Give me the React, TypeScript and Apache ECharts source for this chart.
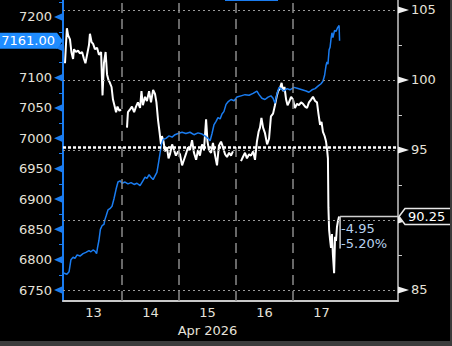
import React, { useEffect, useRef } from "react";
import * as echarts from "echarts";

// x values are hours since Apr 13 00:00
const dayLabels = ["13", "14", "15", "16", "17"];
const dayCenters = [12, 36, 60, 84, 108];
const dayBreaks = [24, 48, 72, 96];
const monthLabel = "Apr 2026";

const leftTicks = [6750, 6800, 6850, 6900, 6950, 7000, 7050, 7100, 7150, 7200];
const leftMinor = [6775, 6825, 6875, 6925, 6975, 7025, 7075, 7125, 7175, 7225];
const rightTicks = [85, 90, 95, 100, 105];
const rightMinor = [87.5, 92.5, 97.5, 102.5];

const lastSpx = 7161.0;
const lastOil = 90.25;
const prevClose = 95.2;
const netChange = "-4.95";
const pctChange = "-5.20%";

// S&P futures (left axis, blue)
const spx: [number, number][] = [
  [-0.6, 6778], [0.8, 6776], [1.7, 6780], [2.5, 6800], [3.4, 6804], [4.2, 6802], [5.1, 6808],
  [6.3, 6806], [7.6, 6810], [8.8, 6812], [10.1, 6815], [10.9, 6813], [11.8, 6816], [12.6, 6814],
  [13.3, 6810], [13.7, 6820], [14.3, 6832], [14.9, 6850], [15.6, 6856], [16.4, 6858], [16.8, 6866],
  [17.3, 6872], [18.1, 6882], [18.9, 6884], [19.8, 6888], [20.6, 6900], [21.5, 6916], [22.3, 6928],
  [23.2, 6930], [24.0, 6926], [25.3, 6928], [26.5, 6925], [27.8, 6927], [29.1, 6924], [30.3, 6926],
  [31.6, 6922], [32.8, 6930], [33.7, 6936], [34.5, 6934], [35.4, 6940], [36.2, 6936], [37.1, 6932],
  [37.9, 6938], [38.7, 6944], [39.4, 6960], [40.0, 6975], [40.6, 6990], [41.3, 6998], [42.5, 7000],
  [43.8, 7004], [45.1, 7002], [46.3, 7006], [47.6, 7008], [49.3, 7010], [50.9, 7008], [52.6, 7010],
  [54.3, 7006], [56.0, 7009], [57.7, 7007], [58.9, 7004], [60.2, 7000], [61.1, 6996], [61.9, 7008],
  [62.7, 7022], [63.6, 7028], [64.4, 7034], [65.3, 7032], [66.1, 7040], [66.9, 7044], [67.8, 7056],
  [68.6, 7060], [69.9, 7064], [71.2, 7062], [72.4, 7068], [74.1, 7070], [75.8, 7072], [77.5, 7071],
  [79.2, 7074], [80.8, 7078], [81.7, 7072], [82.9, 7066], [84.2, 7064], [85.5, 7068], [86.7, 7070],
  [87.6, 7066], [88.4, 7058], [89.3, 7074], [90.1, 7084], [90.9, 7082], [92.2, 7078], [93.5, 7082],
  [94.7, 7080], [96.4, 7084], [98.1, 7082], [99.8, 7080], [101.5, 7078], [102.7, 7076], [104.0, 7080],
  [105.3, 7082], [106.5, 7086], [107.8, 7090], [108.6, 7094], [109.3, 7104], [109.9, 7120],
  [110.3, 7126], [110.7, 7122], [111.2, 7146], [111.6, 7150], [112.0, 7164], [112.4, 7174],
  [112.8, 7166], [113.5, 7178], [114.1, 7176], [114.7, 7182], [115.4, 7186], [115.6, 7161],
];

// Crude oil (right axis, white); null = session break
const oil: [number, number | null][] = [
  [0.0, 101.2], [0.4, 102.5], [0.8, 103.7], [1.3, 103.2], [2.1, 102.9], [2.7, 102.0], [3.4, 101.5],
  [3.8, 102.2], [4.6, 102.0], [5.5, 102.1], [6.3, 101.9], [7.2, 102.0], [8.0, 101.5], [8.6, 101.2],
  [9.3, 101.8], [10.1, 102.5], [10.5, 103.3], [11.2, 102.7], [11.8, 102.6], [12.6, 102.2],
  [13.5, 102.3], [14.3, 101.8], [15.2, 102.0], [15.8, 98.9], [16.4, 101.2], [17.1, 102.0],
  [17.7, 100.4], [18.3, 100.0], [18.9, 99.8], [19.6, 99.5], [20.2, 98.6], [20.8, 98.2], [21.5, 97.7],
  [22.1, 98.1], [22.9, 97.8], [23.6, 97.9], [24.8, null],
  [26.1, 96.6], [26.5, 97.7], [27.4, 97.9], [28.2, 98.1], [29.1, 97.7], [29.9, 98.1], [30.7, 98.4],
  [31.6, 98.0], [32.2, 99.2], [32.8, 98.2], [33.7, 98.8], [34.5, 98.5], [35.4, 99.2], [36.2, 98.4],
  [37.1, 99.3], [37.9, 99.0], [38.5, 98.4], [39.2, 97.1], [39.8, 96.3], [40.4, 95.4], [40.8, 96.0],
  [41.5, 95.6], [42.1, 94.9], [42.9, 95.2], [43.6, 94.4], [44.2, 94.7], [45.1, 95.4], [45.9, 95.0],
  [46.7, 94.6], [47.6, 94.9], [48.4, 94.7], [49.3, 93.9], [50.1, 94.3], [50.9, 94.7], [51.8, 95.2],
  [52.6, 95.0], [53.5, 95.7], [54.3, 94.8], [55.2, 94.3], [56.0, 95.0], [56.8, 94.6], [57.7, 95.4],
  [58.5, 95.0], [59.4, 97.2], [60.0, 95.6], [60.6, 95.0], [61.5, 94.8], [62.3, 95.5], [63.2, 94.6],
  [64.0, 93.9], [64.8, 95.3], [65.7, 95.6], [66.5, 95.2], [67.4, 94.7], [68.2, 94.5], [69.1, 94.8],
  [69.9, 94.6], [70.7, 94.9], [72.5, null],
  [74.1, 94.2], [74.9, 94.5], [75.8, 94.8], [76.6, 94.4], [77.5, 94.7], [78.3, 94.6], [79.2, 94.9],
  [80.0, 94.3], [80.8, 95.6], [81.5, 96.3], [82.1, 96.6], [82.7, 97.3], [83.4, 96.6], [84.2, 96.2],
  [85.1, 95.4], [85.9, 95.8], [86.7, 97.4], [87.6, 97.6], [88.4, 98.2], [89.1, 98.8], [89.7, 99.2],
  [90.5, 99.4], [91.2, 99.8], [91.8, 99.2], [92.4, 99.5], [93.1, 98.6], [93.7, 98.2], [94.3, 98.4],
  [95.2, 98.8], [96.0, 98.6], [96.8, 98.0], [97.7, 98.3], [98.5, 98.2], [99.4, 98.4], [100.2, 98.3],
  [101.1, 98.1], [101.9, 98.0], [102.7, 98.4], [103.6, 98.6], [104.4, 98.8], [105.3, 98.5],
  [106.1, 98.4], [106.7, 97.6], [107.4, 96.8], [108.0, 97.0], [108.6, 96.3], [109.3, 96.0],
  [109.9, 95.6], [110.3, 95.1], [110.7, 94.4], [110.9, 90.9], [111.2, 89.3], [111.6, 88.6],
  [112.0, 88.0], [112.4, 89.0], [112.8, 87.5], [113.3, 86.2], [113.7, 88.8], [114.1, 88.5],
  [114.5, 89.5], [114.9, 89.9], [115.4, 90.25],
];

const FONT = "DejaVu Sans";
const LABEL = "#e6e2da";
const BLUE = "#1a7cf0";
const AXIS_GRAY = "#c8c8c8";

export default function App() {
  const ref = useRef<HTMLDivElement>(null);

  useEffect(() => {
    document.body.style.margin = "0";
    document.body.style.background = "#000";
    if (!ref.current) return;
    const chart = echarts.init(ref.current, null, { renderer: "svg" });

    const gridLineStyle = { color: "#9a9a9a", width: 1, type: [2, 3] as any };
    const option: any = {
      animation: false,
      backgroundColor: "#000",
      grid: { left: 63, right: 54, top: 0, bottom: 45, outerBoundsMode: "none", containLabel: false },
      xAxis: {
        type: "value",
        min: -0.84,
        max: 140.2,
        axisLine: { show: true, lineStyle: { color: AXIS_GRAY, width: 2 } },
        axisTick: { show: false },
        splitLine: { show: false },
        axisLabel: {
          customValues: dayCenters,
          color: LABEL,
          fontFamily: FONT,
          fontSize: 13,
          lineHeight: 18,
          margin: 2,
          formatter: (v: number) => {
            const i = dayCenters.indexOf(v);
            if (i < 0) return "";
            return i === 2 ? `${dayLabels[i]}\n${monthLabel}` : dayLabels[i];
          },
        },
      },
      yAxis: [
        {
          type: "value",
          position: "left",
          min: 6731.9,
          max: 7228,
          axisLine: { show: true, onZero: false, lineStyle: { color: BLUE, width: 2 } },
          axisTick: { show: true, customValues: leftMinor, length: 4, lineStyle: { color: BLUE, width: 1 } },
          splitLine: { show: false },
          axisLabel: {
            customValues: leftTicks,
            color: LABEL,
            fontFamily: FONT,
            fontSize: 13,
            margin: 11,
            // the 7150 label sits under the last-value tag
            formatter: (v: number) => (Math.abs(v - lastSpx) < 25 ? "" : String(v)),
          },
        },
        {
          type: "value",
          position: "right",
          min: 84.214,
          max: 105.714,
          axisLine: { show: true, onZero: false, lineStyle: { color: AXIS_GRAY, width: 1.5 } },
          axisTick: { show: true, customValues: rightMinor, length: 4, lineStyle: { color: AXIS_GRAY, width: 1 } },
          splitLine: { show: false },
          axisLabel: {
            customValues: rightTicks,
            color: LABEL,
            fontFamily: FONT,
            fontSize: 13,
            margin: 13,
            formatter: (v: number) => (Math.abs(v - lastOil) < 1.5 ? "" : String(v)),
          },
        },
      ],
      series: [
        {
          type: "line",
          name: "oil",
          yAxisIndex: 1,
          data: oil,
          showSymbol: false,
          symbol: "none",
          connectNulls: false,
          lineStyle: { color: "#ffffff", width: 2 },
          z: 3,
          markLine: {
            silent: true,
            symbol: ["none", "none"],
            label: { show: false },
            animation: false,
            data: [
              ...dayBreaks.map((d) => ({ xAxis: d, lineStyle: { color: "#8a8a8a", width: 1.5, type: [10, 6] } })),
              ...rightTicks.map((t) => ({ yAxis: t, lineStyle: gridLineStyle })),
              { yAxis: prevClose, lineStyle: { color: "#ffffff", width: 2.5, type: [3, 2] } },
            ],
          },
        },
        {
          type: "line",
          name: "spx",
          yAxisIndex: 0,
          data: spx,
          showSymbol: false,
          symbol: "none",
          lineStyle: { color: BLUE, width: 1.5 },
          z: 4,
        },
      ],
    };
    chart.setOption(option);

    const yL = (v: number) => chart.convertToPixel({ yAxisIndex: 0 } as any, v) as number;
    const yR = (v: number) => chart.convertToPixel({ yAxisIndex: 1 } as any, v) as number;
    const xP = (v: number) => chart.convertToPixel({ xAxisIndex: 0 } as any, v) as number;
    const axL = xP(-0.84);
    const axR = xP(140.2);

    const g: any[] = [];
    leftTicks.forEach((t) => {
      const y = yL(t);
      g.push({
        type: "polygon",
        z: 50,
        shape: { points: [[axL, y - 4], [axL, y + 4], [axL - 9, y]] },
        style: { fill: BLUE },
      });
    });
    rightTicks.forEach((t) => {
      const y = yR(t);
      g.push({
        type: "polygon",
        z: 50,
        shape: { points: [[axR, y - 3.5], [axR, y + 3.5], [axR + 11, y]] },
        style: { fill: "#f0f0f0" },
      });
    });

    // left last-value tag
    const ys = yL(lastSpx);
    g.push({
      type: "polygon",
      z: 100,
      shape: { points: [[0, ys - 8], [57, ys - 8], [axL, ys], [57, ys + 8], [0, ys + 8]] },
      style: { fill: "#1f8cff" },
    });
    g.push({
      type: "text",
      z: 101,
      x: 55,
      y: ys,
      style: {
        text: lastSpx.toFixed(2),
        fill: "#ffffff",
        font: `13px "${FONT}"`,
        align: "right",
        verticalAlign: "middle",
      },
    });

    // right last-value tag
    const yo = yR(lastOil);
    const xEnd = xP(oil[oil.length - 1][0]) + 1;
    g.push({
      type: "line",
      z: 60,
      shape: { x1: xEnd, y1: yo, x2: axR, y2: yo },
      style: { stroke: "#d0d0d0", lineWidth: 1.5 },
    });
    g.push({
      type: "line",
      z: 60,
      shape: { x1: xEnd, y1: yo, x2: xEnd, y2: yo + 32 },
      style: { stroke: "#d0d0d0", lineWidth: 1.5 },
    });
    g.push({
      type: "text",
      z: 61,
      x: xEnd + 1,
      y: yo + 12,
      style: { text: netChange, fill: "#b8d2ee", font: `13px "${FONT}"`, align: "left", verticalAlign: "middle" },
    });
    g.push({
      type: "text",
      z: 61,
      x: xEnd + 1,
      y: yo + 27,
      style: { text: pctChange, fill: "#b8d2ee", font: `13px "${FONT}"`, align: "left", verticalAlign: "middle" },
    });
    g.push({
      type: "polygon",
      z: 100,
      shape: { points: [[axR + 1, yo], [axR + 7, yo - 8], [451, yo - 8], [451, yo + 8], [axR + 7, yo + 8]] },
      style: { fill: "#000000", stroke: "#e8e8e8", lineWidth: 1.5 },
    });
    g.push({
      type: "text",
      z: 101,
      x: axR + 10,
      y: yo,
      style: { text: lastOil.toFixed(2), fill: "#ffffff", font: `13px "${FONT}"`, align: "left", verticalAlign: "middle" },
    });

    // frame strips
    g.push({ type: "rect", z: 120, shape: { x: 0, y: 341, width: 452, height: 5 }, style: { fill: "#3c3c3c" } });
    g.push({ type: "rect", z: 120, shape: { x: 450, y: 0, width: 2, height: 346 }, style: { fill: "#3c3c3c" } });
    g.push({ type: "rect", z: 120, shape: { x: 225, y: 0, width: 53, height: 1 }, style: { fill: BLUE } });

    chart.setOption({ graphic: g });

    return () => chart.dispose();
  }, []);

  return <div ref={ref} style={{ width: 452, height: 346, background: "#000" }} />;
}
